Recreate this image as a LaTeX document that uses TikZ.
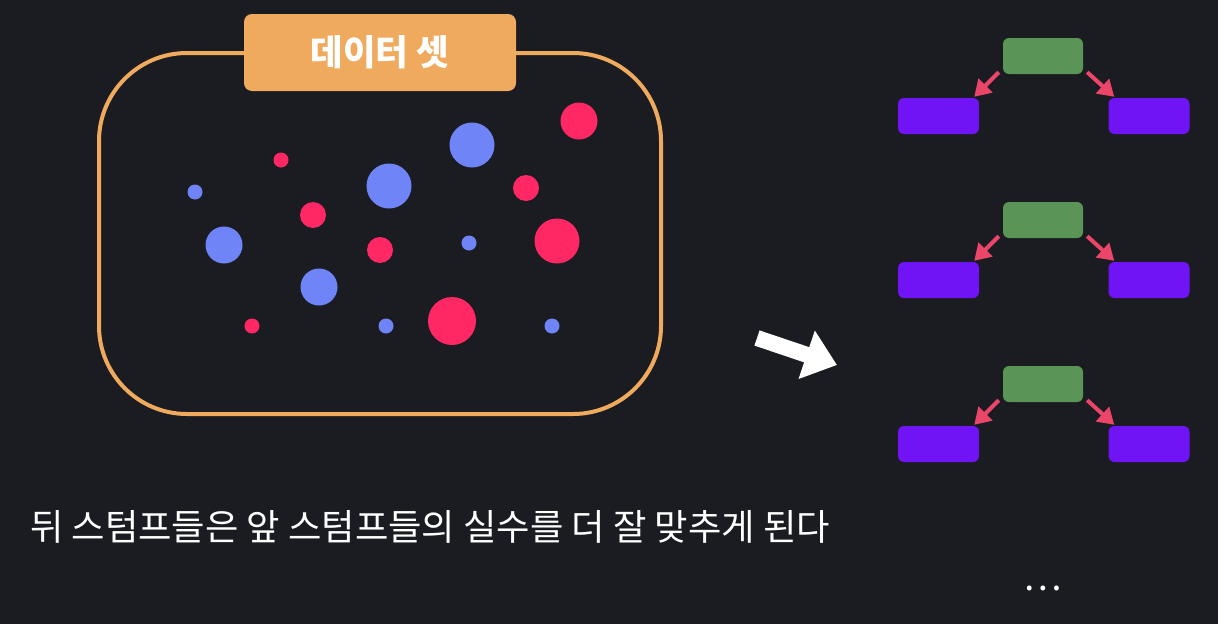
\documentclass[tikz,border=0pt]{standalone}
\usepackage{fontspec}
\setmainfont{Noto Sans CJK KR}
\usetikzlibrary{arrows.meta}
\definecolor{bgdark}{HTML}{1A1C21}
\definecolor{setorange}{HTML}{F0AA5E}
\definecolor{dotred}{HTML}{FF2865}
\definecolor{dotblue}{HTML}{6F84F6}
\definecolor{rootgreen}{HTML}{5B9457}
\definecolor{leafpurple}{HTML}{7014F5}
\definecolor{splitpink}{HTML}{EC456A}
\tikzset{
  dataframe/.style={draw=setorange, line width=4pt, rounded corners=88pt, minimum width=562pt, minimum height=361pt, inner sep=0pt},
  setlabel/.style={fill=setorange, rounded corners=8pt, minimum width=272pt, minimum height=77pt, inner sep=0pt, text=white, font=\fontsize{35.5}{40}\selectfont\bfseries},
  reddot/.style={circle, fill=dotred, inner sep=0pt, minimum size=#1},
  bluedot/.style={circle, fill=dotblue, inner sep=0pt, minimum size=#1},
  rootbox/.style={fill=rootgreen, rounded corners=6pt, minimum width=80pt, minimum height=36pt, inner sep=0pt},
  leafbox/.style={fill=leafpurple, rounded corners=6pt, minimum width=81pt, minimum height=36pt, inner sep=0pt},
  split/.style={draw=splitpink, line width=4pt, -{Triangle[length=16pt, width=19pt]}},
  bigarrow/.style={draw=white, line width=16pt, -{Triangle[length=32pt, width=49pt]}},
  caption/.style={text=white, inner sep=0pt, font=\fontsize{36.3}{42}\selectfont}
}
\begin{document}
\begin{tikzpicture}[x=1pt,y=-1pt]
\fill[bgdark] (0,0) rectangle (1218,624);
\useasboundingbox (0,0) rectangle (1218,624);
\node[dataframe] (set) at (380,233.5) {};
\node[setlabel] (setname) at (380,52.5) {데이터 셋};
\node[reddot=37pt] (r1) at (579,121) {};
\node[bluedot=45pt] (b1) at (472,145) {};
\node[reddot=15pt] (r2) at (281,160) {};
\node[bluedot=15pt] (b2) at (195,192) {};
\node[bluedot=45pt] (b3) at (389,186) {};
\node[reddot=26pt] (r3) at (526,188) {};
\node[reddot=26pt] (r4) at (313,215) {};
\node[bluedot=37pt] (b4) at (224,245) {};
\node[reddot=26pt] (r5) at (380,250) {};
\node[bluedot=15pt] (b5) at (469,243) {};
\node[reddot=45pt] (r6) at (557,241) {};
\node[bluedot=37pt] (b6) at (319,287) {};
\node[reddot=15pt] (r7) at (252,326) {};
\node[bluedot=15pt] (b7) at (386,326) {};
\node[reddot=48pt] (r8) at (452,321) {};
\node[bluedot=15pt] (b8) at (552,326) {};
\coordinate (from) at (757,338);
\coordinate (to) at (837,365);
\draw[bigarrow] (from) -- (to);
\foreach \dy/\n in {0/a,164/b,328/c}{
  \node[rootbox] (g\n) at (1043,56+\dy) {};
  \node[leafbox] (l\n) at (938.5,116+\dy) {};
  \node[leafbox] (r\n) at (1149,116+\dy) {};
  \draw[split] ([shift={(-4pt,2pt)}]g\n.south west) -- ([shift={(-5pt,1pt)}]l\n.north east);
  \draw[split] ([shift={(4pt,2pt)}]g\n.south east) -- ([shift={(6pt,1pt)}]r\n.north west);
}
\node[caption, anchor=base west] (note) at (30,540) {뒤 스텀프들은 앞 스텀프들의 실수를 더 잘 맞추게 된다};
\node[caption, anchor=base] (more) at (1043,590) {…};
\end{tikzpicture}
\end{document}
